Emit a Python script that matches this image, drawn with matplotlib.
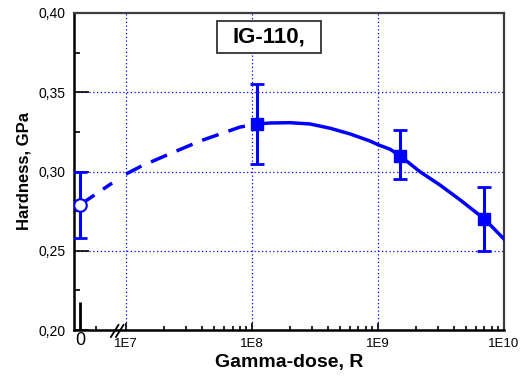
import numpy as np
import matplotlib
matplotlib.use("Agg")
import matplotlib.pyplot as plt
from matplotlib.ticker import FixedLocator, FixedFormatter
from matplotlib.patches import Rectangle

# ---- data ----
dose = [0, 1.1e8, 1.5e9, 7e9]
hardness = [0.279, 0.330, 0.310, 0.270]
err_low = [0.258, 0.305, 0.295, 0.250]
err_high = [0.300, 0.355, 0.326, 0.290]

# fitted curve
fit_dose = [1e7, 1.3e7, 1.86e7, 3.86e7, 8.0e7, 1.1e8, 1.39e8, 2.0e8, 2.88e8,
            4.16e8, 6.0e8, 8.65e8, 1e9, 1.25e9, 1.5e9, 2.15e9, 3.1e9, 4.5e9,
            7e9, 1e10]
fit_h = [0.2984, 0.3031, 0.3085, 0.3192, 0.3280, 0.3300, 0.3306, 0.3308, 0.3300,
         0.3273, 0.3237, 0.3192, 0.3169, 0.3140, 0.3098, 0.2999, 0.2915, 0.2820,
         0.2700, 0.2574]
# short dashed piece left of the axis break (from the zero point)
pre_dose = [0, 7.75e6]
pre_h = [0.279, 0.2927]

x_tick_labels = ["0", "1E7", "1E8", "1E9", "1E10"]
y_ticks = [0.20, 0.25, 0.30, 0.35, 0.40]
y_tick_labels = ["0,20", "0,25", "0,30", "0,35", "0,40"]

# ---- layout ----
ZERO_POS = 6.635          # axis position used for dose = 0
XMIN, XMAX = 6.587, 10.0
BLUE = "#0000ff"
FONT = "Liberation Sans"

def pos(d):
    return np.array([ZERO_POS if v == 0 else np.log10(v) for v in d])

fig = plt.figure(figsize=(5.22, 3.79), dpi=100)
ax = fig.add_axes([74/522, 1-330/379, 430/522, 317/379])
ax.set_xlim(XMIN, XMAX)
ax.set_ylim(0.20, 0.40)

# grid
for gx in [7, 8, 9]:
    ax.axvline(gx, color=BLUE, lw=0.9, ls=(0, (1, 2)), zorder=1)
for gy in [0.25, 0.30, 0.35]:
    ax.axhline(gy, color=BLUE, lw=0.9, ls=(0, (1, 2)), zorder=1)

# curve
fx = pos(fit_dose)
fh = np.array(fit_h)
split = 5  # curve is dashed up to the 1.1E8 point, solid after
ax.plot(fx[:split+1], fh[:split+1], color=BLUE, lw=2.5, ls=(0, (5, 3)),
        dash_capstyle="butt", zorder=3)
ax.plot(fx[split:], fh[split:], color=BLUE, lw=2.5, zorder=3,
        solid_joinstyle="round")
ax.plot(pos(pre_dose), pre_h, color=BLUE, lw=2.5, ls=(0, (5, 3)), zorder=3)

# error bars & markers
px = pos(dose)
h = np.array(hardness)
yerr = [h - np.array(err_low), np.array(err_high) - h]
ax.errorbar(px, h, yerr=yerr, fmt="none", ecolor=BLUE, elinewidth=2.2,
            capsize=5, capthick=2.0, zorder=4)
ax.plot(px[1:], h[1:], ls="none", marker="s", ms=8.5, color=BLUE, zorder=5)
ax.plot(px[:1], h[:1], ls="none", marker="o", ms=9, mfc="white",
        mec=BLUE, mew=1.5, zorder=5)

# ticks
ax.xaxis.set_major_locator(FixedLocator([ZERO_POS, 7, 8, 9, 10]))
ax.xaxis.set_major_formatter(FixedFormatter(x_tick_labels))
minors = [6.762] + [np.log10(m) + dec for dec in (7, 8, 9) for m in range(2, 10)]
ax.xaxis.set_minor_locator(FixedLocator(minors))
ax.yaxis.set_major_locator(FixedLocator(y_ticks))
ax.yaxis.set_major_formatter(FixedFormatter(y_tick_labels))
ax.yaxis.set_minor_locator(FixedLocator([0.225, 0.275, 0.325, 0.375]))
ax.tick_params(axis="both", which="both", direction="in", top=False, right=False,
               color="black", width=1.2)
ax.tick_params(axis="x", which="major", length=5, pad=6, labelsize=9.5)
ax.tick_params(axis="x", which="minor", length=3)
ax.tick_params(axis="y", which="major", length=11, pad=6, labelsize=10)
ax.tick_params(axis="y", which="minor", length=4)
for lab in ax.get_xticklabels() + ax.get_yticklabels():
    lab.set_fontfamily(FONT)
t0 = ax.xaxis.get_major_ticks()[0]
t0.tick1line.set_markersize(20)
t0.tick1line.set_markeredgewidth(2)
t0.label1.set_fontsize(13)
t0.label1.set_y(0.02)

# spines
for s in ["left", "bottom"]:
    ax.spines[s].set_linewidth(1.8)
    ax.spines[s].set_color("black")
for s in ["top", "right"]:
    ax.spines[s].set_linewidth(1.6)
    ax.spines[s].set_color("#3c3c3c")

# axis break marks
BREAK = 6.91
for off in (0.0, 0.04):
    ax.plot([BREAK - 0.03 + off, BREAK + 0.03 + off], [-0.022, 0.016],
            transform=ax.get_xaxis_transform(), color="black", lw=1.3,
            clip_on=False, zorder=6)

ax.set_xlabel("Gamma-dose, R", fontfamily=FONT, fontweight="bold",
              fontsize=14, labelpad=3)
ax.set_ylabel("Hardness, GPa", fontfamily=FONT, fontweight="bold",
              fontsize=12, labelpad=5)

# title box
ax.add_patch(Rectangle((0.3326, 0.8738), 0.2418, 0.101, transform=ax.transAxes,
                       fc="white", ec="#333333", lw=1.3, zorder=7))
ax.text(0.4535, 0.923, "IG-110,", transform=ax.transAxes, ha="center", va="center",
        fontfamily=FONT, fontweight="bold", fontsize=16, zorder=8)

fig.savefig("out.png", dpi=100)
